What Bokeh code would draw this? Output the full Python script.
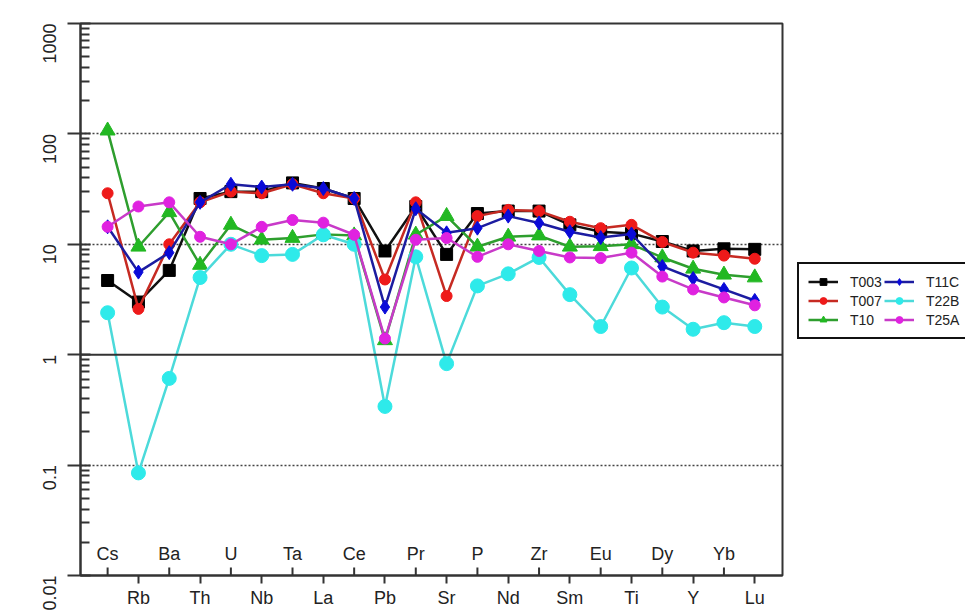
import math
from bokeh.plotting import figure
from bokeh.layouts import row
from bokeh.models import (Range1d, FixedTicker, CustomJSTickFormatter, Span,
                          Legend, LegendItem)
from bokeh.core.properties import value
from bokeh.embed import file_html
from bokeh.resources import INLINE

# ---------------- data ----------------
elements = ["Cs", "Rb", "Ba", "Th", "U", "Nb", "Ta", "La", "Ce", "Pb", "Pr",
            "Sr", "P", "Nd", "Zr", "Sm", "Eu", "Ti", "Dy", "Y", "Yb", "Lu"]

T003 = [4.7, 3.0, 5.8, 26, 30, 30, 36, 32, 26, 8.7, 22, 8.1, 19, 20, 20, 15, 13, 12.5, 10.6, 8.7, 9.1, 9.0]
T007 = [29, 2.6, 10, 24, 30, 29, 35, 29, 26, 4.8, 24, 3.4, 18, 20.5, 20, 16, 14, 15, 10.5, 8.4, 7.9, 7.4]
T10 = [107, 9.5, 19.5, 6.5, 15, 11, 11.4, 12.3, 12, 1.35, 12.2, 18, 9.5, 11.7, 12, 9.5, 9.6, 10, 7.6, 6.0, 5.3, 5.0]
T11C = [14.4, 5.6, 8.4, 24, 35, 33, 35, 32, 26, 2.7, 21, 12.7, 14, 18, 15.6, 13, 11.5, 12.4, 6.3, 4.9, 3.9, 3.1]
T22B = [2.4, 0.085, 0.61, 5.0, 10, 7.9, 8.1, 12.2, 10, 0.34, 7.7, 0.83, 4.2, 5.4, 7.6, 3.5, 1.8, 6.1, 2.7, 1.7, 1.95, 1.8]
T25A = [14.4, 22, 24, 11.7, 10, 14.4, 16.6, 15.7, 12.2, 1.4, 11, 11.4, 7.7, 10, 8.7, 7.6, 7.5, 8.4, 5.1, 3.9, 3.3, 2.8]

sample_names = ["T003", "T007", "T10", "T11C", "T22B", "T25A"]
sample_values = [T003, T007, T10, T11C, T22B, T25A]

y_ticks = [0.01, 0.1, 1, 10, 100, 1000]
y_labels = ["0.01", "0.1", "1", "10", "100", "1000"]
grid_levels = [0.1, 10, 100]
ref_level = 1

# ---------------- styles ----------------
styles = [
    dict(line="#111111", fill="#000000", marker="square", size=12),
    dict(line="#c62a22", fill="#ee1a1a", marker="circle", size=11),
    dict(line="#2e9e2e", fill="#22b822", marker="triangle", size=15),
    dict(line="#1c1ca0", fill="#0a0ad8", marker="diamond", size=14),
    dict(line="#4cdada", fill="#2eeaea", marker="circle", size=14),
    dict(line="#c83ac8", fill="#e022e0", marker="circle", size=11),
]

FONT = "Liberation Sans"
x = list(range(len(elements)))
ymin, ymax = y_ticks[0], y_ticks[-1]

p = figure(width=784, height=610, y_axis_type="log",
           x_range=Range1d(-0.88, len(elements) - 1 + 0.9),
           y_range=Range1d(ymin, ymax),
           output_backend="svg", toolbar_location=None,
           min_border_left=80, min_border_right=2,
           min_border_top=23, min_border_bottom=35)

p.background_fill_color = "white"
p.border_fill_color = "white"
p.outline_line_color = "#333333"
p.outline_line_width = 2

# grid
p.xgrid.visible = False
p.ygrid.ticker = FixedTicker(ticks=grid_levels)
p.ygrid.grid_line_color = "#444444"
p.ygrid.grid_line_dash = "2 2"
p.ygrid.grid_line_width = 1.5
p.add_layout(Span(location=ref_level, dimension="width",
                  line_color="#333333", line_width=2))

# y axis
minor = [m * 10 ** e for e in range(-2, 3) for m in range(2, 10)]
p.yaxis.ticker = FixedTicker(ticks=y_ticks, minor_ticks=minor)
p.yaxis.formatter = CustomJSTickFormatter(
    args=dict(yt=y_ticks, yl=y_labels),
    code="""
    let best = 0, d = 1e9;
    for (let i = 0; i < yt.length; i++) {
        const e = Math.abs(Math.log10(yt[i]) - Math.log10(tick));
        if (e < d) { d = e; best = i; }
    }
    return yl[best];
    """)
p.yaxis.major_label_orientation = math.pi / 2
p.yaxis.major_label_text_font = FONT
p.yaxis.major_label_text_font_size = "18px"
p.yaxis.major_label_text_color = "#222222"
p.yaxis.major_tick_out = 13
p.yaxis.major_tick_in = 10
p.yaxis.minor_tick_out = 0
p.yaxis.minor_tick_in = 9
p.yaxis.major_tick_line_width = 2
p.yaxis.minor_tick_line_width = 2
p.yaxis.axis_line_width = 2
p.yaxis.axis_line_color = "#333333"
p.yaxis.major_tick_line_color = "#333333"
p.yaxis.minor_tick_line_color = "#333333"
p.yaxis.major_label_standoff = 18

# x axis (odd positions below, even positions inside)
odd_x = [i for i in x if i % 2 == 1]
even_x = [i for i in x if i % 2 == 0]
p.xaxis.ticker = FixedTicker(ticks=odd_x)
p.xaxis.formatter = CustomJSTickFormatter(
    args=dict(names=elements),
    code="return names[Math.round(tick)] || '';")
p.xaxis.major_label_text_font = FONT
p.xaxis.major_label_text_font_size = "18px"
p.xaxis.major_label_text_color = "#222222"
p.xaxis.major_tick_out = 8
p.xaxis.major_tick_in = 0
p.xaxis.minor_tick_out = 0
p.xaxis.minor_tick_in = 0
p.xaxis.major_tick_line_width = 2
p.xaxis.axis_line_width = 2
p.xaxis.axis_line_color = "#333333"
p.xaxis.major_tick_line_color = "#333333"
p.xaxis.major_label_standoff = 4

p.ray(x=even_x, y=[ymin] * len(even_x), length=8, length_units="screen",
      angle=math.pi / 2, line_color="#333333", line_width=2)
p.text(x=even_x, y=[ymin] * len(even_x), text=[elements[i] for i in even_x],
       y_offset=-22, text_align="center", text_baseline="alphabetic",
       text_font=value(FONT), text_font_size="18px", text_color="#222222")

# series
for name, vals, st in zip(sample_names, sample_values, styles):
    p.line(x, vals, line_color=st["line"], line_width=2.5)
    p.scatter(x, vals, marker=st["marker"], size=st["size"],
              fill_color=st["fill"], line_color=st["fill"])

# legend panel (separate, borderless figure to the right of the plot)
q = figure(width=181, height=610, x_range=Range1d(0, 1), y_range=Range1d(0, 1),
           output_backend="svg", toolbar_location=None, min_border=0,
           outline_line_color=None)
q.axis.visible = False
q.grid.visible = False
nan = float("nan")
items = []
for name, st in zip(sample_names, styles):
    lr = q.line([nan], [nan], line_color=st["line"], line_width=2.5)
    sr = q.scatter([nan], [nan], marker=st["marker"], size=st["size"] * 0.6,
                   fill_color=st["fill"], line_color=st["fill"])
    items.append(LegendItem(label=name, renderers=[lr, sr]))

legend = Legend(items=items, ncols=2, location=(13, 236),
                label_text_font=FONT, label_text_font_size="14px",
                label_text_color="#222222",
                glyph_width=30, glyph_height=17, label_standoff=12,
                spacing=2, padding=9, margin=0,
                border_line_color="#111111", border_line_width=2,
                border_line_alpha=1.0,
                background_fill_alpha=1.0)
q.add_layout(legend)

layout = row(p, q, spacing=0)
open("out.html", "w").write(file_html(layout, INLINE))
